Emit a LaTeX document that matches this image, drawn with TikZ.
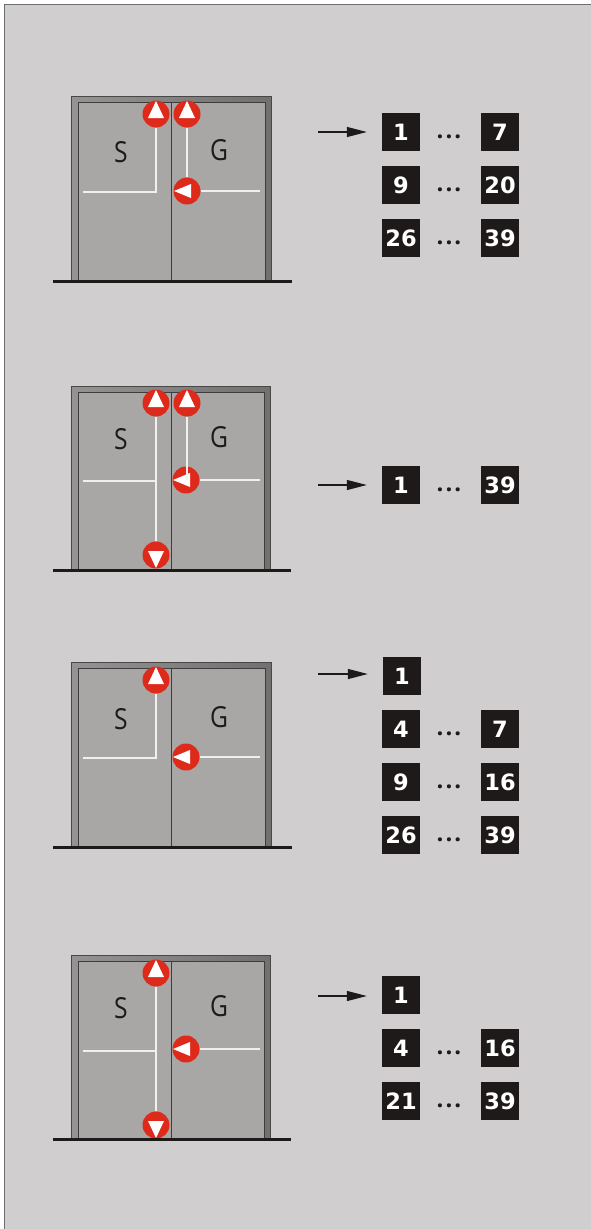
\documentclass[tikz,border=0pt]{standalone}
\usepackage{fontspec}
\setmainfont{Open Sans}
\newfontfamily\numfont{DejaVu Sans}
\usetikzlibrary{arrows.meta}
\definecolor{panelgray}{HTML}{D0CECF}
\definecolor{edgegray}{HTML}{6E6E6C}
\definecolor{leafgray}{HTML}{A9A7A5}
\definecolor{inkblack}{HTML}{1D1A19}
\definecolor{sigred}{HTML}{DE2A1B}
\definecolor{linewhite}{HTML}{F1F0EC}
\tikzset{
    frame box/.style={draw=inkblack!80, line width=0.8pt, left color=black!42, right color=black!56, minimum width=200pt, minimum height=184pt, anchor=north west, inner sep=0pt},
    leaf box/.style={draw=inkblack!85, line width=0.8pt, fill=leafgray, minimum width=93pt, minimum height=178pt, anchor=north west, inner sep=0pt},
    door letter/.style={text=inkblack, font=\fontsize{29}{29}\selectfont, xscale=0.85, inner sep=0pt},
    num box/.style={fill=inkblack, text=white, font=\numfont\bfseries\fontsize{22.5}{22.5}\selectfont, minimum size=38pt, inner sep=0pt},
    dots node/.style={text=inkblack, font=\bfseries\fontsize{24}{24}\selectfont, inner sep=0pt, yshift=-5pt},
    sig base/.style={circle, fill=sigred, minimum size=27pt, inner sep=0pt},
    sig up/.style={sig base, path picture={\fill[white] (path picture bounding box.center) ++(0pt,13pt) -- ++(-8pt,-17pt) -- ++(16pt,0pt) -- cycle;}},
    sig down/.style={sig base, path picture={\fill[white] (path picture bounding box.center) ++(0pt,-13pt) -- ++(-8pt,17pt) -- ++(16pt,0pt) -- cycle;}},
    sig left/.style={sig base, path picture={\fill[white] (path picture bounding box.center) ++(-13pt,0pt) -- ++(17pt,-7pt) -- ++(0pt,14pt) -- cycle;}},
    sig line/.style={draw=linewhite, line width=1.5pt},
    floor line/.style={draw=inkblack, line width=3pt},
    pointer/.style={draw=inkblack, line width=1.3pt, -{Triangle[length=20pt,width=10pt]}, shorten >=15pt}
}
\newcommand{\tripledots}{.\hspace{2pt}.\hspace{2pt}.}
\begin{document}
\begin{tikzpicture}[x=1pt, y=-1pt, node distance=53pt]
    \useasboundingbox (0,0) rectangle (591,1229);
    \fill[white] (0,0) rectangle (591,1229);
    \fill[panelgray, draw=edgegray, line width=1pt] (4.5,4.5) -- (591,4.5) -- (591,1229) -- (4.5,1229) -- cycle;

    % first door
    \node[frame box] (fa) at (71,96) {};
    \node[leaf box] (sa) at (78,102) {};
    \node[leaf box, minimum width=93.5pt] (ga) at (171,102) {};
    \node[door letter] (la) at (121,152) {S};
    \node[door letter] (ra) at (219,150) {G};
    \coordinate (aL) at (83,192);
    \coordinate (aR) at (260,191);
    \node[sig up] (a1) at (156,114) {};
    \node[sig up] (a2) at (187,114) {};
    \node[sig left] (a3) at (187,191) {};
    \draw[sig line] (aL) -| (a1);
    \draw[sig line] (a2) -- (a3);
    \draw[sig line] (a3) -- (aR);
    \coordinate (aF) at (53,281);
    \coordinate (aE) at (292,281);
    \draw[floor line] (aF) -- (aE);

    % second door
    \node[frame box, minimum width=199pt] (fb) at (71,386) {};
    \node[leaf box] (sb) at (78,392) {};
    \node[leaf box] (gb) at (171,392) {};
    \node[door letter] (lb) at (121,439) {S};
    \node[door letter] (rb) at (219,437) {G};
    \coordinate (bL) at (83,481);
    \coordinate (bM) at (156,481);
    \coordinate (bR) at (260,480);
    \node[sig up] (b1) at (156,403) {};
    \node[sig up] (b2) at (187,403) {};
    \node[sig left] (b3) at (186,480) {};
    \node[sig down] (b4) at (156,555) {};
    \draw[sig line] (bL) -- (bM);
    \draw[sig line] (b1) -- (b4);
    \draw[sig line] (b2) -- (b2 |- b3);
    \draw[sig line] (b3) -- (bR);
    \coordinate (bF) at (53,570);
    \coordinate (bE) at (291,570);
    \draw[floor line] (bF) -- (bE);

    % third door
    \node[frame box] (fc) at (71,662) {};
    \node[leaf box] (sc) at (78,668) {};
    \node[leaf box, minimum width=93.5pt] (gc) at (171,668) {};
    \node[door letter] (lc) at (121,719) {S};
    \node[door letter] (rc) at (219,717) {G};
    \coordinate (cL) at (83,758);
    \coordinate (cR) at (260,757);
    \node[sig up] (c1) at (156,680) {};
    \node[sig left] (c2) at (186,757) {};
    \draw[sig line] (cL) -| (c1);
    \draw[sig line] (c2) -- (cR);
    \coordinate (cF) at (53,847);
    \coordinate (cE) at (292,847);
    \draw[floor line] (cF) -- (cE);

    % fourth door
    \node[frame box, minimum width=199pt] (fd) at (71,955) {};
    \node[leaf box] (sd) at (78,961) {};
    \node[leaf box] (gd) at (171,961) {};
    \node[door letter] (ld) at (121,1008) {S};
    \node[door letter] (rd) at (219,1006) {G};
    \coordinate (dL) at (83,1051);
    \coordinate (dM) at (156,1051);
    \coordinate (dR) at (260,1049);
    \node[sig up] (d1) at (156,973) {};
    \node[sig left] (d2) at (186,1049) {};
    \node[sig down] (d3) at (156,1125) {};
    \draw[sig line] (dL) -- (dM);
    \draw[sig line] (d1) -- (d3);
    \draw[sig line] (d2) -- (dR);
    \coordinate (dF) at (53,1139);
    \coordinate (dE) at (291,1139);
    \draw[floor line] (dF) -- (dE);

    % number lists
    \node[num box] (n1) at (401,132) {1};
    \node[num box] (n7) [right of=n1, node distance=99pt] {7};
    \node[dots node] (nd1) [right of=n1, node distance=48pt] {\tripledots};
    \node[num box] (n9) [below of=n1] {9};
    \node[num box] (n20) [right of=n9, node distance=99pt] {20};
    \node[dots node] (nd2) [right of=n9, node distance=48pt] {\tripledots};
    \node[num box] (n26) [below of=n9] {26};
    \node[num box] (n39) [right of=n26, node distance=99pt] {39};
    \node[dots node] (nd3) [right of=n26, node distance=48pt] {\tripledots};
    \coordinate (pa) at (318,132);
    \draw[pointer] (pa) -- (n1);

    \node[num box] (m1) at (401,485) {1};
    \node[num box] (m39) [right of=m1, node distance=99pt] {39};
    \node[dots node] (md1) [right of=m1, node distance=48pt] {\tripledots};
    \coordinate (pb) at (318,485);
    \draw[pointer] (pb) -- (m1);

    \node[num box] (k1) at (402,676) {1};
    \node[num box] (k4) at (401,729) {4};
    \node[num box] (k7) [right of=k4, node distance=99pt] {7};
    \node[dots node] (kd1) [right of=k4, node distance=48pt] {\tripledots};
    \node[num box] (k9) [below of=k4] {9};
    \node[num box] (k16) [right of=k9, node distance=99pt] {16};
    \node[dots node] (kd2) [right of=k9, node distance=48pt] {\tripledots};
    \node[num box] (k26) [below of=k9] {26};
    \node[num box] (k39) [right of=k26, node distance=99pt] {39};
    \node[dots node] (kd3) [right of=k26, node distance=48pt] {\tripledots};
    \coordinate (pc) at (318,674);
    \draw[pointer] (pc) -- (pc -| k1.west);

    \node[num box] (j1) at (401,995) {1};
    \node[num box] (j4) [below of=j1] {4};
    \node[num box] (j16) [right of=j4, node distance=99pt] {16};
    \node[dots node] (jd1) [right of=j4, node distance=48pt] {\tripledots};
    \node[num box] (j21) [below of=j4] {21};
    \node[num box] (j39) [right of=j21, node distance=99pt] {39};
    \node[dots node] (jd2) [right of=j21, node distance=48pt] {\tripledots};
    \coordinate (pd) at (318,996);
    \draw[pointer] (pd) -- (pd -| j1.west);
\end{tikzpicture}
\end{document}
